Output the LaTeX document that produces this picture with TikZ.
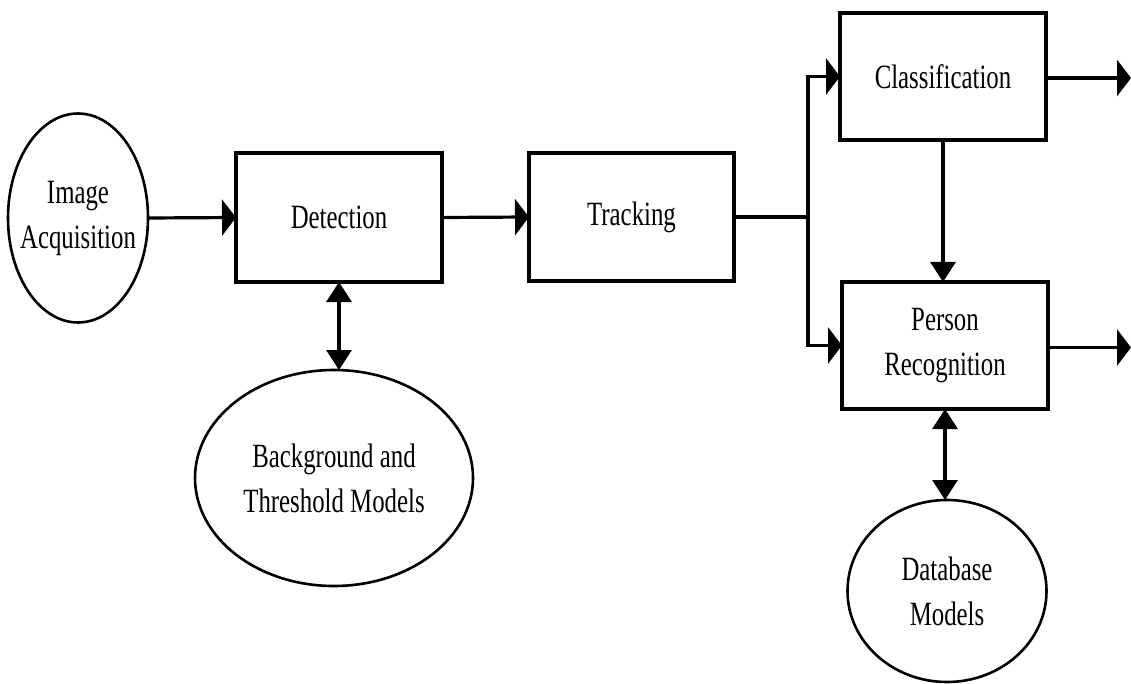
\documentclass[tikz,border=0pt]{standalone}
\usepackage{fontspec}
\setmainfont{Liberation Serif}[FakeStretch=0.73]
\usetikzlibrary{arrows.meta,shapes.geometric}
\tikzset{
  lbl/.style={font=\fontsize{34}{45}\selectfont, align=center, inner sep=0pt, outer sep=0pt},
  blk/.style={lbl, draw, line width=3.5pt, rectangle},
  ell/.style={lbl, draw, line width=2.6pt, ellipse},
  conn/.style={line width=3.2pt},
  harr/.style={conn, -{Triangle[length=14pt,width=36pt]}},
  varr/.style={conn, -{Triangle[length=20pt,width=25pt]}},
  dvarr/.style={conn, {Triangle[length=20pt,width=25pt]}-{Triangle[length=20pt,width=25pt]}}
}
\begin{document}
\begin{tikzpicture}[x=1pt,y=-1pt]
\useasboundingbox (0,0) rectangle (1131,684);
\node[ell, inner xsep=-10pt, minimum width=140pt, minimum height=209pt] (ia) at (78,218) {Image\\Acquisition};
\node[blk, minimum width=206pt, minimum height=129pt] (det) at (339,217.5) {Detection};
\node[blk, minimum width=205pt, minimum height=128pt] (trk) at (631.5,217) {Tracking};
\node[blk, minimum width=206pt, minimum height=127pt] (cls) at (943,76.5) {Classification};
\node[blk, minimum width=206pt, minimum height=127pt] (pr) at (945,345.5) {Person\\Recognition};
\node[ell, inner xsep=-12pt, minimum width=278pt, minimum height=216pt] (bg) at (334,478) {Background and\\Threshold Models};
\node[ell, minimum width=199pt, minimum height=182pt] (db) at (947,591) {Database\\Models};
\coordinate (j) at (808,217);
\coordinate (o1) at (1131,78);
\coordinate (o2) at (1131,347.5);
\draw[harr] (ia.east) -- (det.west);
\draw[harr] (det.east) -- (trk.west);
\draw[conn] (trk.east) -- (j);
\draw[harr] (j) |- (cls.west);
\draw[harr] (j) |- (pr.west);
\draw[varr] (cls.south) -- (cls.south |- pr.north);
\draw[harr] (cls.east |- o1) -- (o1);
\draw[harr] (pr.east |- o2) -- (o2);
\draw[dvarr] (det.south) -- (det.south |- bg.north);
\draw[dvarr] (pr.south) -- (pr.south |- db.north);
\end{tikzpicture}
\end{document}
